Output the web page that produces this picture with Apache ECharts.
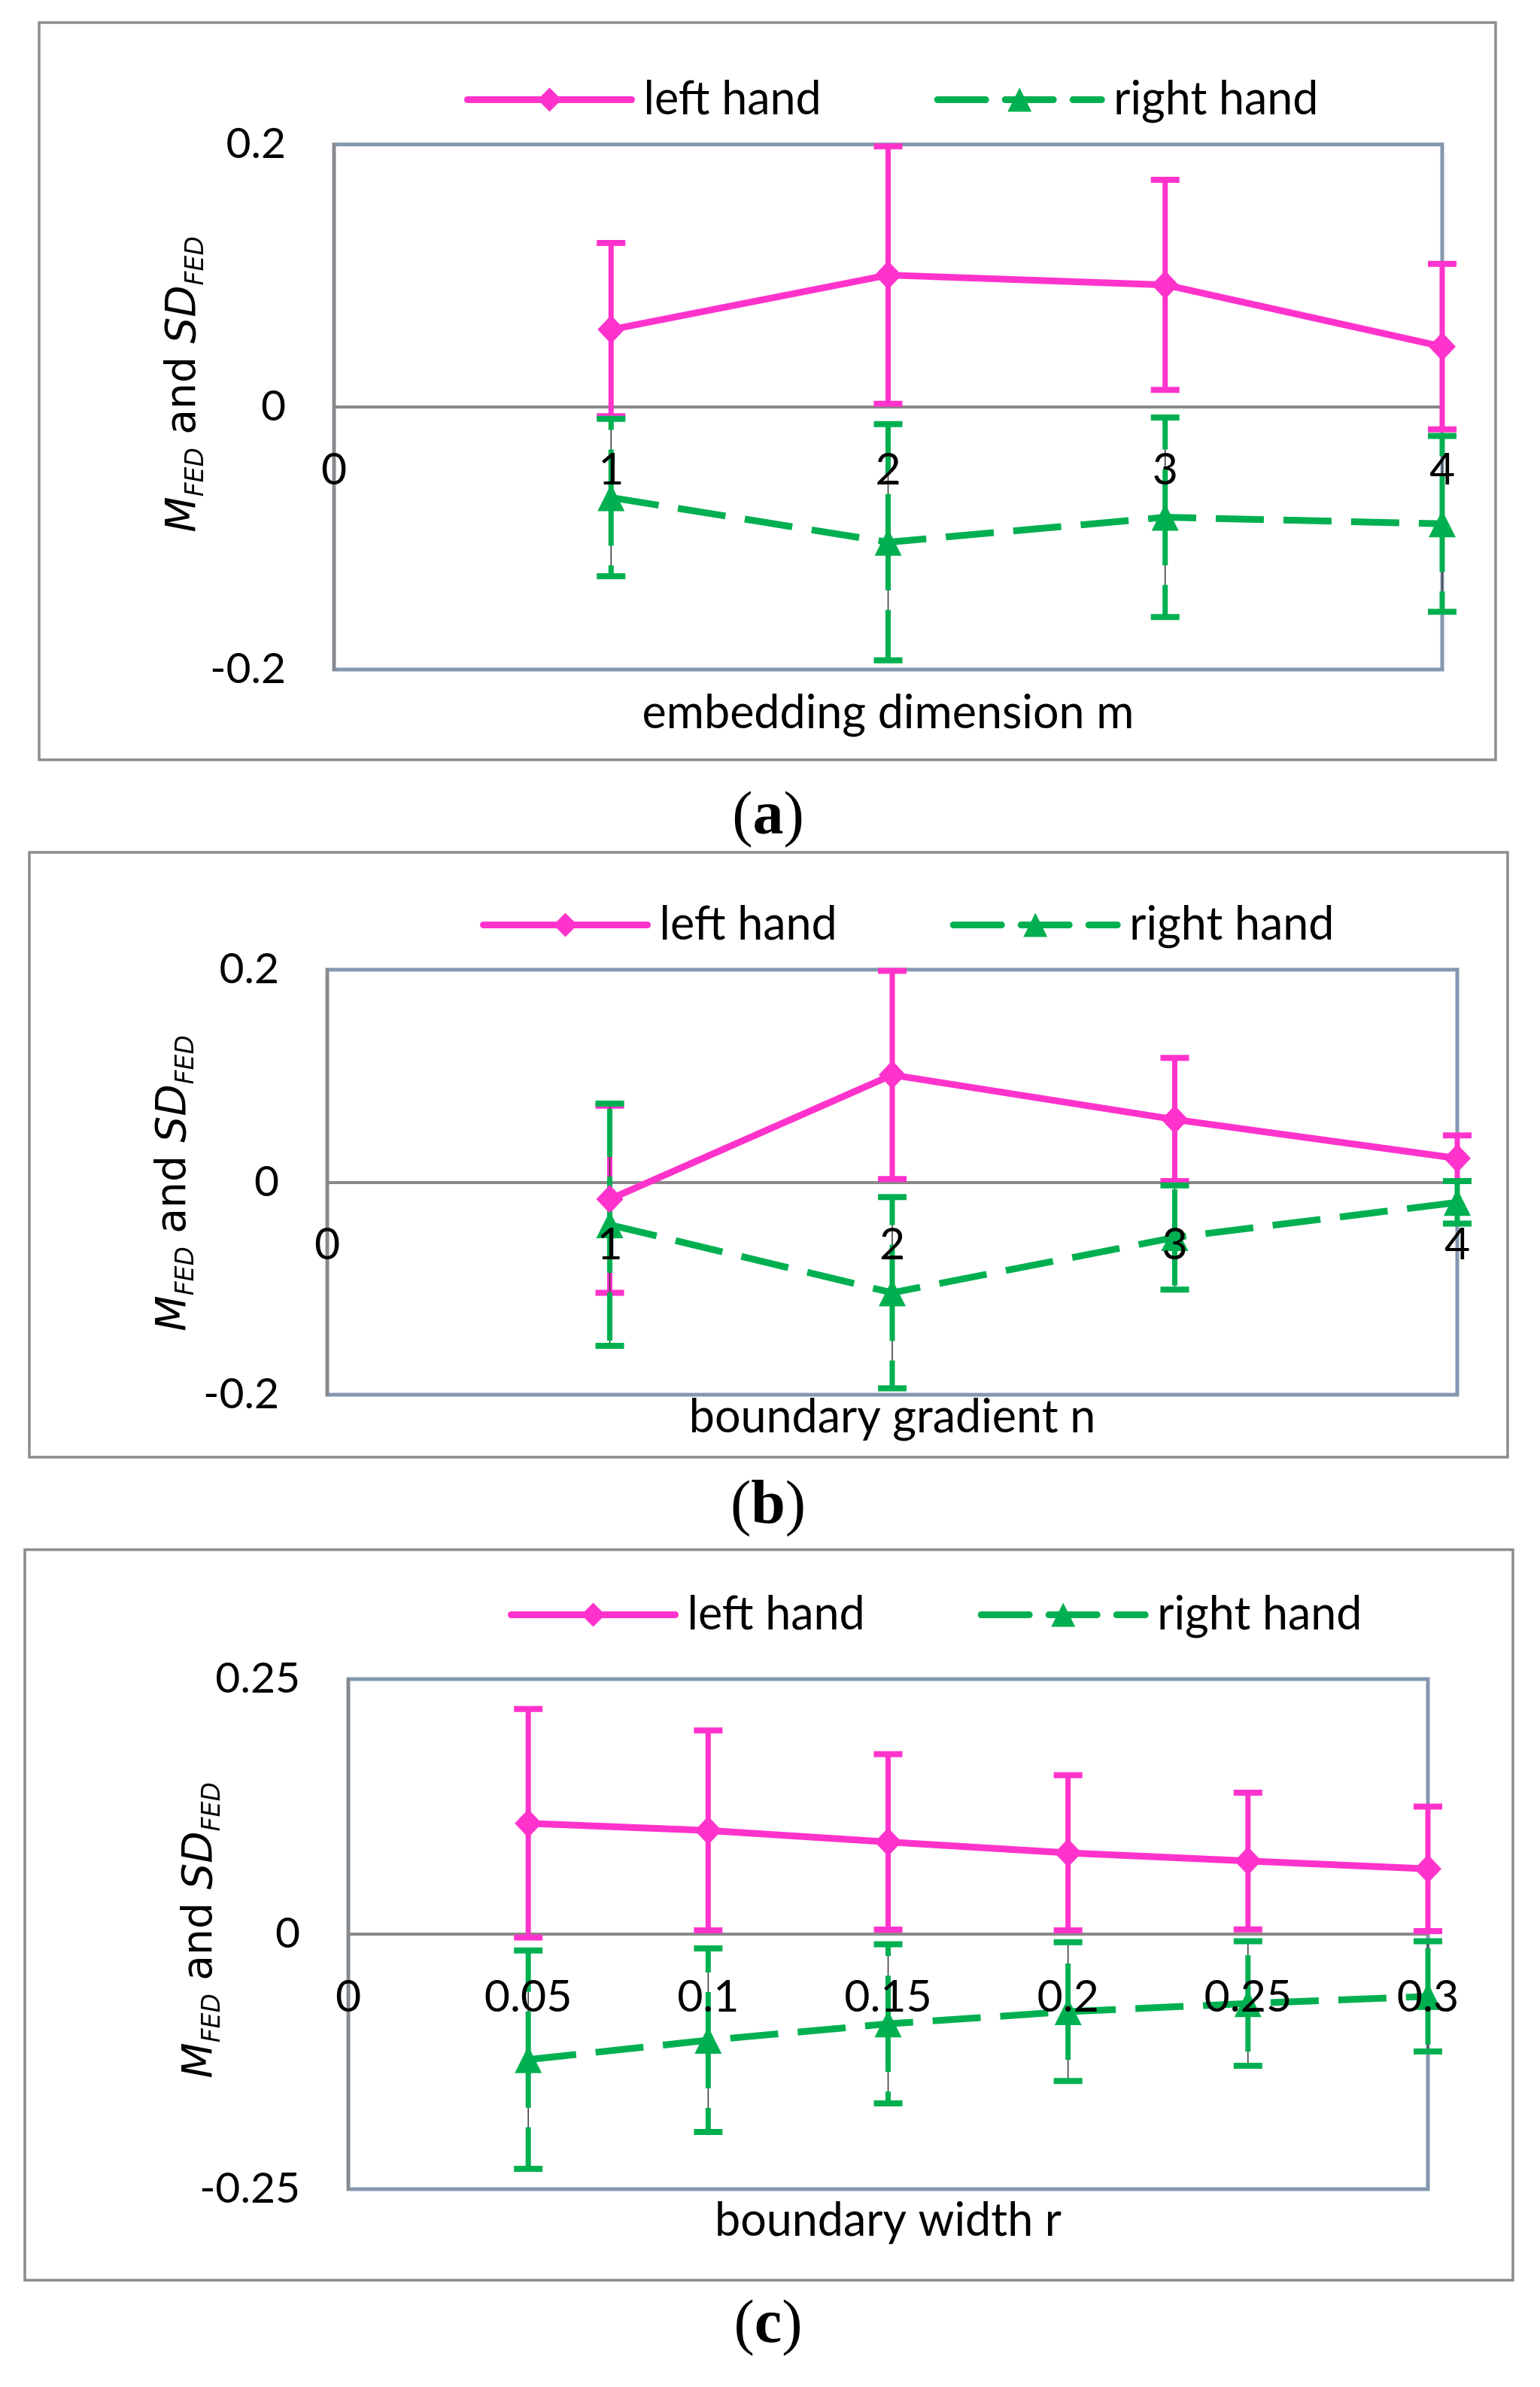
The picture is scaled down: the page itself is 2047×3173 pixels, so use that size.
<!DOCTYPE html>
<html>
<head>
<meta charset="utf-8">
<script src="https://cdn.jsdelivr.net/npm/echarts@6/dist/echarts.min.js"></script>
<style>
html, body { margin: 0; padding: 0; background: #fff; }
#main { width: 2047px; height: 3173px; }
</style>
</head>
<body>
<div id="main"></div>
<script>
// (a) embedding dimension m
var xA = [1, 2, 3, 4];
var leftMeanA = [0.059, 0.1005, 0.093, 0.046];
var leftSdA = [0.066, 0.098, 0.080, 0.063];
var rightMeanA = [-0.069, -0.103, -0.084, -0.089];
var rightSdA = [0.060, 0.090, 0.076, 0.067];

// (b) boundary gradient n
var xB = [1, 2, 3, 4];
var leftMeanB = [-0.016, 0.101, 0.059, 0.0225];
var leftSdB = [0.088, 0.098, 0.058, 0.0215];
var rightMeanB = [-0.040, -0.104, -0.052, -0.019];
var rightSdB = [0.114, 0.090, 0.049, 0.020];

// (c) boundary width r
var xC = [0.05, 0.1, 0.15, 0.2, 0.25, 0.3];
var leftMeanC = [0.1086, 0.1016, 0.0904, 0.0797, 0.0717, 0.0640];
var leftSdC = [0.112, 0.098, 0.086, 0.076, 0.067, 0.061];
var rightMeanC = [-0.123, -0.104, -0.088, -0.076, -0.068, -0.061];
var rightSdC = [0.107, 0.090, 0.078, 0.068, 0.061, 0.054];

var xTicksAB = ['0', '1', '2', '3', '4'];
var xTicksC = ['0', '0.05', '0.1', '0.15', '0.2', '0.25', '0.3'];
var yTicksAB = ['-0.2', '0', '0.2'];
var yTicksC = ['-0.25', '0', '0.25'];
var seriesNames = ['left hand', 'right hand'];

var PINK = '#ff33cc';
var GREEN = '#00b050';
var SANS = 'Lato';

var panels = [
    {
        grid: { left: 444, top: 192, width: 1473, height: 698 },
        x: xA, lm: leftMeanA, ls: leftSdA, rm: rightMeanA, rs: rightSdA,
        xMax: 4, xInt: 1, xTicks: xTicksAB, yMax: 0.2, yTicks: yTicksAB,
        legendLeft: 612, legendTop: 97,
        xName: 'embedding dimension m', xNameY: 948, yNameX: 245, yNameY: 511,
        box: [52, 30, 1936, 980], cap: 'a', capY: 1087
    },
    {
        grid: { left: 435, top: 1289, width: 1502, height: 565 },
        x: xB, lm: leftMeanB, ls: leftSdB, rm: rightMeanB, rs: rightSdB,
        xMax: 4, xInt: 1, xTicks: xTicksAB, yMax: 0.2, yTicks: yTicksAB,
        legendLeft: 633, legendTop: 1194,
        xName: 'boundary gradient n', xNameY: 1884, yNameX: 232, yNameY: 1573,
        box: [39, 1133, 1965, 804], cap: 'b', capY: 2003
    },
    {
        grid: { left: 463, top: 2232, width: 1435, height: 678 },
        x: xC, lm: leftMeanC, ls: leftSdC, rm: rightMeanC, rs: rightSdC,
        xMax: 0.3, xInt: 0.05, xTicks: xTicksC, yMax: 0.25, yTicks: yTicksC,
        legendLeft: 670, legendTop: 2111,
        xName: 'boundary width r', xNameY: 2952, yNameX: 267, yNameY: 2566,
        box: [33, 2060, 1978, 971], cap: 'c', capY: 3092
    }
];

function errorBars(color, dashed) {
    return function (params, api) {
        var x = api.value(0), m = api.value(1), s = api.value(2);
        var pm = api.coord([x, m]);
        var pt = api.coord([x, m + s]);
        var pb = api.coord([x, m - s]);
        var kids = [];
        if (dashed) {
            kids.push({ type: 'line', shape: { x1: pt[0], y1: pt[1], x2: pb[0], y2: pb[1] }, style: { stroke: '#333', lineWidth: 1.5 } });
            kids.push({ type: 'line', shape: { x1: pm[0], y1: pm[1], x2: pt[0], y2: pt[1] }, style: { stroke: color, lineWidth: 7, lineDash: [64, 26] } });
            kids.push({ type: 'line', shape: { x1: pm[0], y1: pm[1], x2: pb[0], y2: pb[1] }, style: { stroke: color, lineWidth: 7, lineDash: [64, 26] } });
        } else {
            kids.push({ type: 'line', shape: { x1: pt[0], y1: pt[1], x2: pb[0], y2: pb[1] }, style: { stroke: color, lineWidth: 7 } });
        }
        [pt, pb].forEach(function (p) {
            kids.push({ type: 'line', shape: { x1: p[0] - 19, y1: p[1], x2: p[0] + 19, y2: p[1] }, style: { stroke: color, lineWidth: 8 } });
        });
        return { type: 'group', children: kids };
    };
}

function tickFormatter(ticks) {
    return function (v, idx) { return ticks[idx]; };
}

var option = {
    backgroundColor: '#fff',
    animation: false,
    grid: [], xAxis: [], yAxis: [], legend: [], series: [], graphic: []
};

panels.forEach(function (p, i) {
    option.grid.push({
        left: p.grid.left, top: p.grid.top, width: p.grid.width, height: p.grid.height,
        show: true, borderColor: '#8497b0', borderWidth: 5
    });
    // the y range is symmetric, so the category line sits half way up the plot
    option.xAxis.push({
        type: 'value', gridIndex: i, min: 0, max: p.xMax, interval: p.xInt,
        position: 'bottom', offset: -p.grid.height / 2,
        axisLine: { onZero: false, lineStyle: { color: '#898989', width: 4 } },
        axisTick: { show: false },
        splitLine: { show: false },
        axisLabel: { show: false }
    });
    // same axis again, labels only, kept above the marks
    option.xAxis.push({
        type: 'value', gridIndex: i, min: 0, max: p.xMax, interval: p.xInt,
        position: 'bottom', offset: -p.grid.height / 2, z: 20,
        axisLine: { show: false, onZero: false },
        axisTick: { show: false },
        splitLine: { show: false },
        axisLabel: {
            margin: 54, color: '#000', fontFamily: SANS, fontSize: 59,
            formatter: tickFormatter(p.xTicks)
        }
    });
    option.yAxis.push({
        type: 'value', gridIndex: i, min: -p.yMax, max: p.yMax, interval: p.yMax,
        axisLine: { show: true, onZero: false, lineStyle: { color: '#898989', width: 4 } },
        axisTick: { show: false },
        splitLine: { show: false },
        axisLabel: {
            margin: 64, color: '#000', fontFamily: SANS, fontSize: 57,
            formatter: tickFormatter(p.yTicks)
        }
    });
    option.legend.push({
        data: seriesNames,
        left: p.legendLeft, top: p.legendTop,
        itemWidth: 218, itemHeight: 40, itemGap: 150,
        lineStyle: { width: 9, cap: 'round' },
        textStyle: { color: '#000', fontFamily: SANS, fontSize: 61, padding: [0, 0, 0, 11] }
    });

    function pts(xs, ys) { return ys.map(function (v, k) { return [xs[k], v]; }); }
    function bars(xs, ys, sd) { return ys.map(function (v, k) { return [xs[k], v, sd[k]]; }); }

    var xi = i * 2;
    option.series.push({
        name: 'left hand SD', type: 'custom', xAxisIndex: xi, yAxisIndex: i, z: 2,
        renderItem: errorBars(PINK, false), encode: { x: 0, y: 1 },
        data: bars(p.x, p.lm, p.ls)
    });
    option.series.push({
        name: 'right hand SD', type: 'custom', xAxisIndex: xi, yAxisIndex: i, z: 3,
        renderItem: errorBars(GREEN, true), encode: { x: 0, y: 1 },
        data: bars(p.x, p.rm, p.rs)
    });
    option.series.push({
        name: seriesNames[0], type: 'line', xAxisIndex: xi, yAxisIndex: i, z: 4,
        symbol: 'diamond', symbolSize: [36, 38],
        lineStyle: { color: PINK, width: 9 },
        itemStyle: { color: PINK },
        data: pts(p.x, p.lm)
    });
    option.series.push({
        name: seriesNames[1], type: 'line', xAxisIndex: xi, yAxisIndex: i, z: 5,
        symbol: 'triangle', symbolSize: 36,
        lineStyle: { color: GREEN, width: 9, type: [64, 26] },
        itemStyle: { color: GREEN },
        data: pts(p.x, p.rm)
    });

    // outer frame
    option.graphic.push({
        type: 'rect', z: 0, silent: true,
        shape: { x: p.box[0], y: p.box[1], width: p.box[2], height: p.box[3] },
        style: { fill: 'none', stroke: '#8c8c8c', lineWidth: 3.5 }
    });
    // x axis title
    option.graphic.push({
        type: 'text', x: p.grid.left + p.grid.width / 2, y: p.xNameY,
        style: { text: p.xName, fill: '#000', fontFamily: SANS, fontSize: 61,
                 align: 'center', verticalAlign: 'middle', textAlign: 'center', textVerticalAlign: 'middle' }
    });
    // y axis title
    option.graphic.push({
        type: 'text', x: p.yNameX, y: p.yNameY, rotation: Math.PI / 2,
        style: {
            text: '{i|M}{s|FED}{n| and }{i|SD}{s|FED}',
            fill: '#000',
            align: 'center', verticalAlign: 'middle', textAlign: 'center', textVerticalAlign: 'middle',
            rich: {
                i: { fontFamily: 'DejaVu Sans', fontSize: 55, fontStyle: 'italic', lineHeight: 66, verticalAlign: 'middle' },
                n: { fontFamily: 'DejaVu Sans', fontSize: 55, lineHeight: 66, verticalAlign: 'middle' },
                s: { fontFamily: 'DejaVu Sans', fontSize: 33, fontStyle: 'italic', lineHeight: 33, verticalAlign: 'bottom' }
            }
        }
    });
    // panel caption
    option.graphic.push({
        type: 'text', x: 1021, y: p.capY,
        style: {
            text: '{p|(}{b|' + p.cap + '}{p|)}',
            fill: '#000',
            align: 'center', verticalAlign: 'middle', textAlign: 'center', textVerticalAlign: 'middle',
            rich: {
                p: { fontFamily: 'Liberation Serif', fontSize: 82 },
                b: { fontFamily: 'Liberation Serif', fontSize: 82, fontWeight: 'bold' }
            }
        }
    });
});

var chart = echarts.init(document.getElementById('main'));
chart.setOption(option);

window.addEventListener('resize', function () {
    chart.resize();
});
</script>
</body>
</html>
